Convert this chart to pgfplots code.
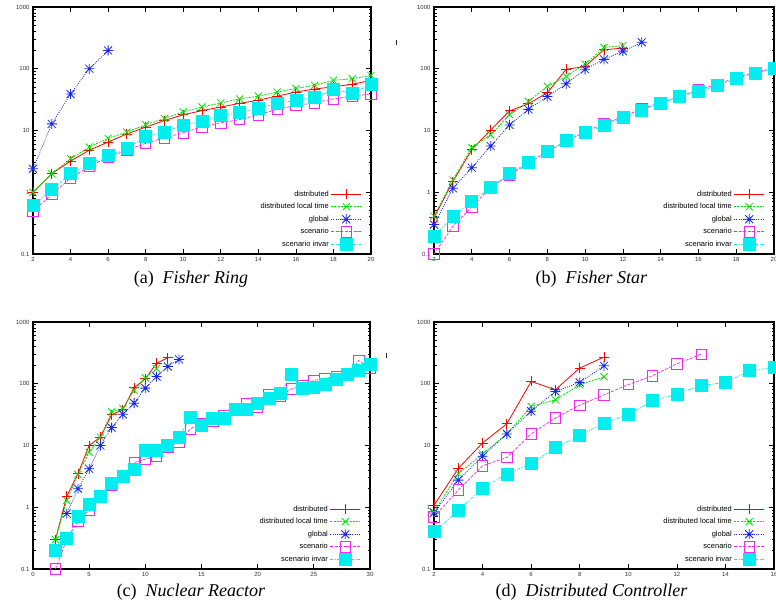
\documentclass[border=0pt]{standalone}
\usepackage{fontspec}
\setmainfont{Liberation Serif}
\setsansfont{Liberation Sans}
\usepackage{pgfplots}
\pgfplotsset{compat=1.18}

\definecolor{gred}{RGB}{255,0,0}
\definecolor{ggreen}{RGB}{0,230,0}
\definecolor{gblue}{RGB}{25,40,235}
\definecolor{gmag}{RGB}{240,40,240}
\definecolor{gcyan}{RGB}{0,238,238}

% gnuplot style "*": a plus and a cross on top of each other
\pgfdeclareplotmark{gstar}{%
  \pgfpathmoveto{\pgfqpoint{-\pgfplotmarksize}{0pt}}%
  \pgfpathlineto{\pgfqpoint{\pgfplotmarksize}{0pt}}%
  \pgfpathmoveto{\pgfqpoint{0pt}{-\pgfplotmarksize}}%
  \pgfpathlineto{\pgfqpoint{0pt}{\pgfplotmarksize}}%
  \pgfpathmoveto{\pgfqpoint{-0.8\pgfplotmarksize}{-0.8\pgfplotmarksize}}%
  \pgfpathlineto{\pgfqpoint{0.8\pgfplotmarksize}{0.8\pgfplotmarksize}}%
  \pgfpathmoveto{\pgfqpoint{-0.8\pgfplotmarksize}{0.8\pgfplotmarksize}}%
  \pgfpathlineto{\pgfqpoint{0.8\pgfplotmarksize}{-0.8\pgfplotmarksize}}%
  \pgfusepathqstroke}

\pgfplotsset{
  every axis/.append style={
    scale only axis, height=247pt,
    ymin=0.1, ymax=1000,
    ytick={0.1,1,10,100,1000}, yticklabels={0.1,1,10,100,1000},
    minor ytick={0.2,0.3,0.4,0.5,0.6,0.7,0.8,0.9,2,3,4,5,6,7,8,9,20,30,40,50,60,70,80,90,200,300,400,500,600,700,800,900},
    tick align=inside, major tick length=5pt, minor tick length=2.5pt,
    axis line style={line width=1.2pt},
    every tick/.style={black, line width=0.7pt},
    ticklabel style={font=\sffamily\fontsize{6}{7}\selectfont, text=black!80},
    clip=false,
    legend plot pos=right,
    legend cell align=right,
    legend style={draw=none, fill=none, at={(0.973,0.012)}, anchor=south east,
      font=\sffamily\fontsize{7.5}{8.5}\selectfont,
      row sep=1.6pt, inner sep=0pt},
    legend image code/.code={\draw[mark repeat=2,mark phase=2]
      plot coordinates {(0pt,0pt) (15pt,0pt) (30pt,0pt)};},
  },
  sdist/.style={draw=gred, color=gred, line width=0.8pt, mark=+, mark size=5pt,
    mark options={solid, draw=gred}},
  slocal/.style={draw=ggreen, color=ggreen, line width=0.8pt, dash pattern=on 2pt off 1.2pt,
    mark=x, mark size=5pt, mark options={solid, draw=ggreen}},
  sglob/.style={draw=gblue, color=gblue, line width=0.8pt, dash pattern=on 0.9pt off 1.3pt,
    mark=gstar, mark size=5pt, mark options={solid, draw=gblue}},
  sscen/.style={draw=gmag, color=gmag, line width=0.7pt, dash pattern=on 3pt off 1.5pt,
    mark=square, mark size=5.2pt, mark options={solid, draw=gmag, line width=0.8pt}},
  sinv/.style={draw=gcyan, color=gcyan, line width=0.7pt, dash pattern=on 3pt off 1.5pt on 1pt off 1.5pt,
    mark=square*, mark size=6pt, mark options={solid, draw=gcyan, fill=gcyan}},
}

\begin{document}
\begin{tikzpicture}
\useasboundingbox (0pt,0pt) rectangle (776pt,606pt);

% (a) Fisher Ring
\begin{semilogyaxis}[at={(33pt,352pt)}, anchor=south west, width=338pt,
  xmin=2, xmax=20, xtick={2,4,...,20}, xticklabels={2,4,6,8,10,12,14,16,18,20}]
\addplot[sdist] coordinates {(2,1.0) (3,2.0) (4,3.2) (5,4.8) (6,6.5) (7,8.8) (8,11.3) (9,14.5) (10,18) (11,21) (12,24) (13,27.5) (14,31) (15,36) (16,42) (17,47) (18,51) (19,56) (20,65)};
\addplot[slocal] coordinates {(2,1.0) (3,2.0) (4,3.5) (5,5.4) (6,7.5) (7,9.4) (8,12.5) (9,15.6) (10,20) (11,24) (12,28) (13,32.5) (14,36) (15,42) (16,48) (17,54) (18,65) (19,69) (20,78)};
\addplot[sglob] coordinates {(2,2.4) (3,12.8) (4,39) (5,100) (6,198)};
\addplot[sscen] coordinates {(2,0.49) (3,0.92) (4,1.7) (5,2.6) (6,3.7) (7,4.8) (8,6.2) (9,7.6) (10,9.2) (11,11.5) (12,13.3) (13,15) (14,18) (15,22) (16,25.5) (17,28) (18,32.5) (19,36) (20,39)};
\addplot[sinv] coordinates {(2,0.61) (3,1.1) (4,2.0) (5,2.9) (6,3.9) (7,5.2) (8,7.9) (9,9.4) (10,12.3) (11,14) (12,17.5) (13,19.5) (14,22.5) (15,28) (16,30.5) (17,34) (18,46) (19,40) (20,56)};
\legend{distributed, distributed local time, global, scenario, scenario invar}
\end{semilogyaxis}

% (b) Fisher Star
\begin{semilogyaxis}[at={(434pt,352pt)}, anchor=south west, width=340pt,
  xmin=2, xmax=20, xtick={2,4,...,20}, xticklabels={2,4,6,8,10,12,14,16,18,20}]
\addplot[sdist] coordinates {(2,0.39) (3,1.49) (4,4.9) (5,10.2) (6,20.8) (7,27) (8,41) (9,98) (10,109) (11,203) (12,216)};
\addplot[slocal] coordinates {(2,0.41) (3,1.58) (4,5.3) (5,8.5) (6,18) (7,29.5) (8,52) (9,75) (10,119) (11,221) (12,238)};
\addplot[sglob] coordinates {(2,0.30) (3,1.16) (4,2.5) (5,5.6) (6,12.3) (7,22) (8,35.5) (9,57) (10,98) (11,142) (12,193) (13,268)};
\addplot[sscen] coordinates {(2,0.1) (3,0.28) (4,0.58) (5,1.19) (6,1.9) (7,2.95) (8,4.6) (9,6.6) (10,9.6) (11,12.8) (12,16.9) (13,22.5) (14,28.5) (15,35.5) (16,45.5) (17,56) (18,72) (19,88) (20,102)};
\addplot[sinv] coordinates {(2,0.196) (3,0.40) (4,0.71) (5,1.19) (6,2.03) (7,3.0) (8,4.6) (9,6.8) (10,9.3) (11,11.9) (12,16.3) (13,21.6) (14,27.7) (15,35.5) (16,43) (17,53) (18,70) (19,83) (20,102)};
\legend{distributed, distributed local time, global, scenario, scenario invar}
\end{semilogyaxis}

% (c) Nuclear Reactor
\begin{semilogyaxis}[at={(33pt,37pt)}, anchor=south west, width=337pt,
  xmin=0, xmax=30, xtick={0,5,...,30}, xticklabels={0,5,10,15,20,25,30}]
\addplot[sdist] coordinates {(2,0.30) (3,1.5) (4,3.5) (5,10) (6,13.7) (7,31.5) (8,38) (9,86) (10,120) (11,215) (12,263)};
\addplot[slocal] coordinates {(2,0.30) (3,1.3) (4,3.4) (5,7.8) (6,13.7) (7,35) (8,40) (9,78) (10,125) (11,175)};
\addplot[sglob] coordinates {(3,0.79) (4,2.0) (5,4.2) (6,10) (7,19.5) (8,32) (9,48.5) (10,85) (11,131) (12,190) (13,248)};
\addplot[sscen] coordinates {(2,0.1) (3,0.3) (4,0.59) (5,0.91) (6,1.45) (7,2.3) (8,3.1) (9,5.3) (10,6.0) (11,6.8) (12,9.3) (13,11.5) (14,18.5) (15,23) (16,25) (17,30) (18,37) (19,48) (20,42) (21,66) (22,64) (23,82) (24,92) (25,113) (26,123) (27,130) (28,138) (29,238) (30,178)};
\addplot[sinv] coordinates {(2,0.2) (3,0.31) (4,0.72) (5,1.12) (6,1.5) (7,2.45) (8,3.2) (9,4.15) (10,8.5) (11,8.5) (12,10) (13,13.5) (14,29) (15,21) (16,27.8) (17,27.8) (18,38) (19,39) (20,47.4) (21,58.6) (22,69) (23,140) (24,85) (25,88) (26,99) (27,116) (28,144) (29,162) (30,210)};
\legend{distributed, distributed local time, global, scenario, scenario invar}
\end{semilogyaxis}

% (d) Distributed Controller
\begin{semilogyaxis}[at={(434pt,37pt)}, anchor=south west, width=340pt,
  xmin=2, xmax=16, xtick={2,4,...,16}, xticklabels={2,4,6,8,10,12,14,16}]
\addplot[sdist] coordinates {(2,1.08) (3,4.25) (4,11) (5,22.5) (6,109) (7,80) (8,180) (9,270)};
\addplot[slocal] coordinates {(2,0.84) (3,3.5) (4,7.3) (5,15.4) (6,43) (7,55) (8,96) (9,130)};
\addplot[sglob] coordinates {(2,0.81) (3,2.75) (4,6.7) (5,15.4) (6,36) (7,75) (8,105) (9,195)};
\addplot[sscen] coordinates {(2,0.70) (3,1.9) (4,4.7) (5,6.4) (6,15.4) (7,28) (8,45) (9,66) (10,97) (11,135) (12,210) (13,300)};
\addplot[sinv] coordinates {(2,0.40) (3,0.88) (4,2.06) (5,3.45) (6,5.1) (7,9.2) (8,14.5) (9,23) (10,32) (11,53) (12,68) (13,94) (14,105) (15,162) (16,183)};
\legend{distributed, distributed local time, global, scenario, scenario invar}
\end{semilogyaxis}

% small stray strokes left over in the reference
\draw[black!85, line width=0.8pt] (396pt,561pt) -- (396pt,566pt);
\draw[black!85, line width=0.8pt] (386pt,248pt) -- (386pt,253pt);

\begin{scope}[every node/.style={font=\fontsize{18}{20}\selectfont, anchor=base, inner sep=0pt}]
\node at (191pt,323pt) {(a)\hspace{0.5em}\textit{Fisher Ring}};
\node at (591.5pt,323pt) {(b)\hspace{0.5em}\textit{Fisher Star}};
\node at (191pt,9.3pt) {(c)\hspace{0.5em}\textit{Nuclear Reactor}};
\node at (591.5pt,9.3pt) {(d)\hspace{0.5em}\textit{Distributed Controller}};
\end{scope}
\end{tikzpicture}
\end{document}
